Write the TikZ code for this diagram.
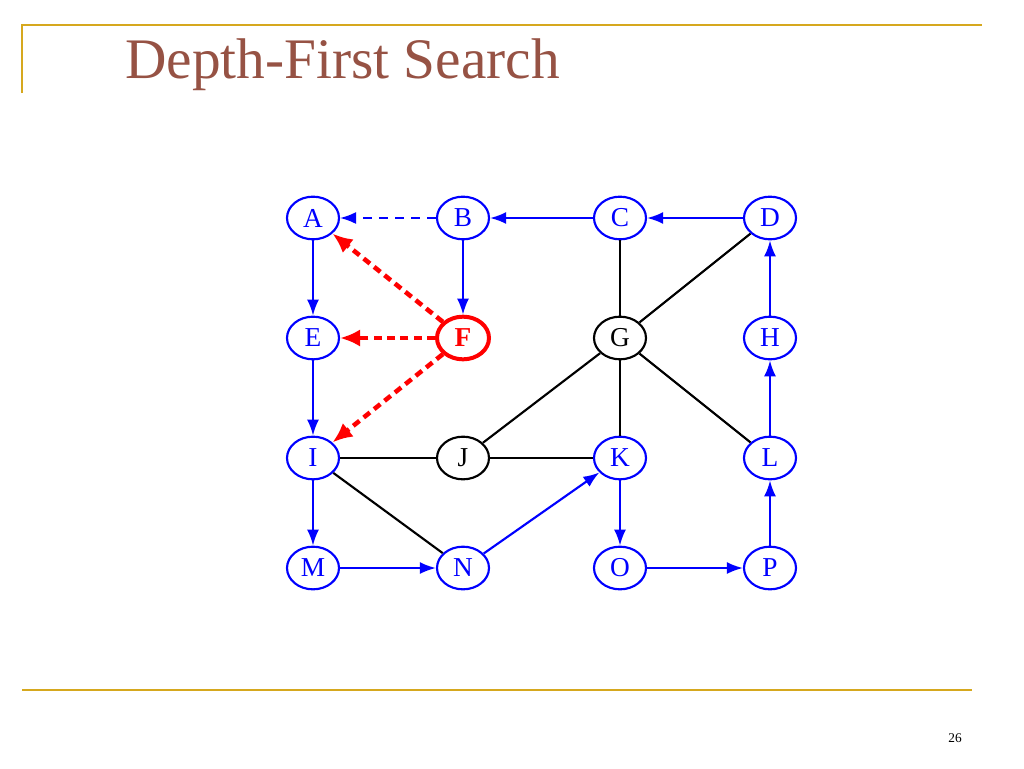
\documentclass[tikz,border=0pt]{standalone}
\usepackage{fontspec}
\setmainfont{Liberation Serif}
\usepackage{xcolor}
\usepackage{tikz}
\usetikzlibrary{arrows.meta,positioning,calc,shapes.geometric}

\definecolor{titlebrown}{RGB}{150,82,68}
\definecolor{rulegold}{RGB}{214,168,30}

\begin{document}
\begin{tikzpicture}[x=0.75pt, y=-0.75pt, >={Latex[length=12pt,width=9pt]}]
    \tikzstyle{vertex} = [draw, ellipse, line width=1.6pt, minimum width=39pt, minimum height=32pt, inner sep=0pt, font=\fontsize{20.5}{20.5}\selectfont]
    \tikzstyle{visited} = [vertex, blue, text=blue]
    \tikzstyle{fresh} = [vertex, black]
    \tikzstyle{tree} = [draw, ->, blue, line width=1.6pt]
    \tikzstyle{edge} = [draw, black, line width=1.6pt]
    \tikzstyle{back} = [draw, red, line width=3.4pt, dash pattern=on 6pt off 4pt, -{Latex[length=15pt,width=13pt]}]

    \useasboundingbox (0,0) rectangle (1024,768);

    % slide frame
    \draw [rulegold, line width=1.5pt] (22,93) -- (22,25) -- (982,25);
    \draw [rulegold, line width=1.5pt] (22,690) -- (972,690);
    \node [anchor=base west, inner sep=0pt, text=titlebrown, font=\fontsize{43}{43}\selectfont] (title) at (125,78) {Depth-First Search};
    \node [anchor=base, inner sep=0pt, font=\fontsize{10}{10}\selectfont] (page) at (955,742) {26};

    % vertices
    \node [visited] (a) at (313,218) {A};
    \node [visited] (b) at (463,218) {B};
    \node [visited] (c) at (620,218) {C};
    \node [visited] (d) at (770,218) {D};
    \node [visited] (e) at (313,338) {E};
    \node [vertex, red, text=red, line width=3pt, font=\fontsize{20.5}{20.5}\selectfont\bfseries] (f) at (463,338) {F};
    \node [fresh] (g) at (620,338) {G};
    \node [visited] (h) at (770,338) {H};
    \node [visited] (i) at (313,458) {I};
    \node [fresh] (j) at (463,458) {J};
    \node [visited] (k) at (620,458) {K};
    \node [visited] (l) at (770,458) {L};
    \node [visited] (m) at (313,568) {M};
    \node [visited] (n) at (463,568) {N};
    \node [visited] (o) at (620,568) {O};
    \node [visited] (p) at (770,568) {P};

    % unexplored edges
    \draw [edge] (c) -- (g);
    \draw [edge] (g) -- (d);
    \draw [edge] (g) -- (j);
    \draw [edge] (g) -- (k);
    \draw [edge] (g) -- (l);
    \draw [edge] (i) -- (j);
    \draw [edge] (j) -- (k);
    \draw [edge] (i) -- (n);

    % discovery edges
    \draw [tree] (d) -- (c);
    \draw [tree] (c) -- (b);
    \draw [tree] (a) -- (e);
    \draw [tree] (b) -- (f);
    \draw [tree] (e) -- (i);
    \draw [tree] (i) -- (m);
    \draw [tree] (m) -- (n);
    \draw [tree] (n) -- (k);
    \draw [tree] (k) -- (o);
    \draw [tree] (o) -- (p);
    \draw [tree] (p) -- (l);
    \draw [tree] (l) -- (h);
    \draw [tree] (h) -- (d);
    \draw [tree, line width=1.3pt, dash pattern=on 7pt off 5pt] (b) -- (a);

    % back edges from F
    \draw [back] (f) -- (a);
    \draw [back] (f) -- (e);
    \draw [back] (f) -- (i);
\end{tikzpicture}
\end{document}
